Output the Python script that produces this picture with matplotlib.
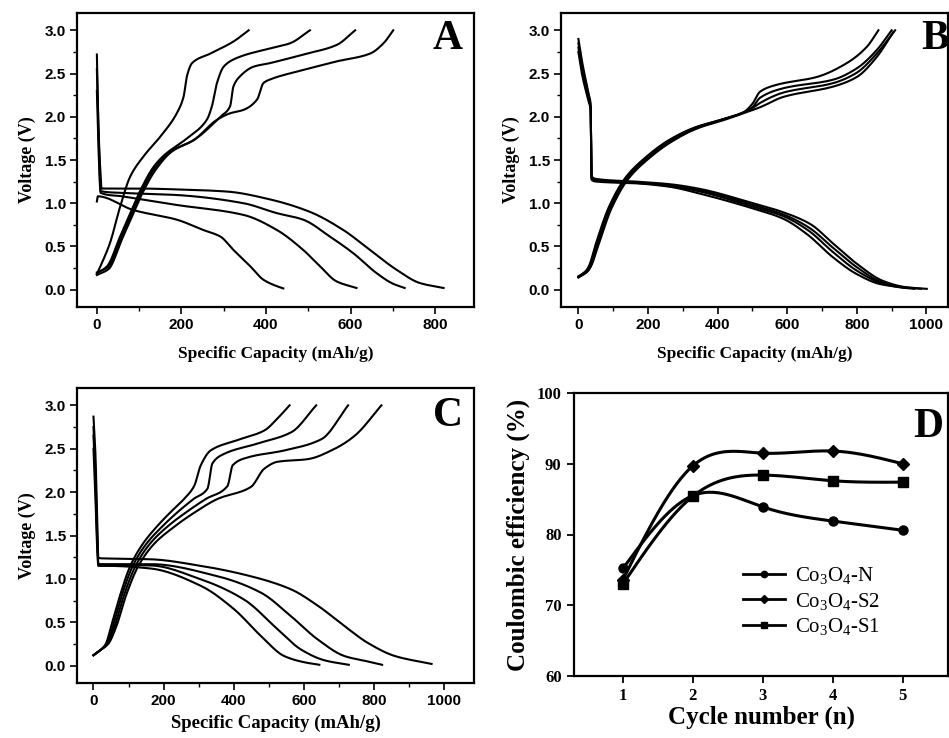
import numpy as np
import matplotlib
matplotlib.use("Agg")
import matplotlib.pyplot as plt
from matplotlib.ticker import MultipleLocator
from matplotlib.lines import Line2D

plt.rcParams['mathtext.fontset'] = 'custom'
plt.rcParams['mathtext.rm'] = 'Liberation Serif'
plt.rcParams['mathtext.it'] = 'Liberation Serif:italic'
plt.rcParams['mathtext.bf'] = 'Liberation Serif:bold'

# ---------------- Panel A data ----------------
A_dis1_x = [0, 2, 87, 189, 252, 292, 323, 363, 394, 426, 441]
A_dis1_y = [1.02, 1.08, 0.92, 0.81, 0.69, 0.615, 0.46, 0.27, 0.115, 0.04, 0.015]
A_dis2_x = [0, 4, 9, 60, 189, 347, 426, 488, 528, 567, 614]
A_dis2_y = [2.3, 1.6, 1.12, 1.08, 0.98, 0.865, 0.69, 0.46, 0.27, 0.096, 0.02]
A_dis3_x = [0, 4, 9, 60, 189, 347, 426, 488, 551, 607, 662, 700, 728]
A_dis3_y = [2.55, 1.8, 1.14, 1.12, 1.095, 1.0, 0.885, 0.81, 0.615, 0.42, 0.19, 0.07, 0.02]
A_dis4_x = [0, 3, 8, 11, 100, 189, 308, 409, 504, 583, 646, 709, 764, 820]
A_dis4_y = [2.72, 2.0, 1.4, 1.17, 1.17, 1.16, 1.135, 1.045, 0.90, 0.69, 0.46, 0.23, 0.077, 0.02]

A_chg1_x = [0, 12, 31, 55, 79, 110, 150, 189, 205, 213, 225, 268, 323, 359]
A_chg1_y = [0.18, 0.31, 0.54, 0.96, 1.31, 1.54, 1.77, 2.04, 2.23, 2.47, 2.62, 2.73, 2.87, 3.0]
A_chg2_x = [0, 24, 55, 79, 103, 134, 158, 213, 260, 272, 284, 300, 331, 409, 457, 504]
A_chg2_y = [0.19, 0.27, 0.615, 0.885, 1.15, 1.42, 1.55, 1.75, 1.965, 2.12, 2.39, 2.58, 2.68, 2.79, 2.85, 3.0]
A_chg3_x = [0, 26, 57, 81, 105, 136, 175, 229, 292, 315, 323, 339, 371, 409, 488, 567, 611]
A_chg3_y = [0.2, 0.26, 0.6, 0.87, 1.13, 1.40, 1.6, 1.73, 2.0, 2.12, 2.35, 2.47, 2.58, 2.62, 2.72, 2.83, 3.0]
A_chg4_x = [0, 28, 59, 83, 107, 138, 178, 229, 284, 315, 347, 379, 394, 409, 488, 567, 646, 678, 701]
A_chg4_y = [0.17, 0.24, 0.58, 0.85, 1.11, 1.38, 1.6, 1.73, 1.965, 2.04, 2.08, 2.2, 2.39, 2.43, 2.54, 2.64, 2.73, 2.85, 3.0]

# ---------------- Panel B data ----------------
B_dis1_x = [0, 10, 29, 35, 38, 53, 167, 263, 350, 493, 589, 666, 733, 800, 876, 940, 1001]
B_dis1_y = [2.9, 2.65, 2.27, 2.15, 1.31, 1.28, 1.25, 1.22, 1.165, 1.01, 0.895, 0.76, 0.53, 0.30, 0.10, 0.03, 0.01]
B_dis2_x = [0, 10, 29, 35, 38, 53, 167, 263, 350, 493, 589, 662, 733, 800, 870, 930, 985]
B_dis2_y = [2.85, 2.6, 2.24, 2.12, 1.29, 1.27, 1.24, 1.21, 1.15, 0.99, 0.87, 0.72, 0.48, 0.26, 0.09, 0.03, 0.01]
B_dis3_x = [0, 10, 29, 35, 38, 53, 167, 263, 350, 493, 589, 659, 733, 800, 868, 920, 965]
B_dis3_y = [2.8, 2.55, 2.2, 2.1, 1.28, 1.26, 1.235, 1.2, 1.135, 0.97, 0.85, 0.69, 0.43, 0.22, 0.08, 0.03, 0.01]
B_dis4_x = [0, 10, 29, 35, 38, 53, 167, 263, 350, 493, 589, 656, 733, 800, 867, 943]
B_dis4_y = [2.75, 2.5, 2.18, 2.08, 1.27, 1.25, 1.23, 1.19, 1.11, 0.95, 0.82, 0.645, 0.37, 0.18, 0.065, 0.02]

B_chg1_x = [0, 22, 31, 50, 88, 136, 193, 260, 337, 405, 474, 500, 522, 570, 685, 771, 829, 862]
B_chg1_y = [0.15, 0.22, 0.28, 0.53, 0.96, 1.30, 1.53, 1.73, 1.88, 1.96, 2.05, 2.15, 2.29, 2.37, 2.46, 2.62, 2.81, 3.0]
B_chg2_x = [0, 24, 33, 53, 91, 139, 196, 263, 340, 407, 474, 500, 522, 589, 733, 800, 857, 900]
B_chg2_y = [0.154, 0.22, 0.28, 0.53, 0.96, 1.30, 1.53, 1.73, 1.88, 1.96, 2.05, 2.11, 2.22, 2.33, 2.43, 2.56, 2.77, 3.0]
B_chg3_x = [0, 25, 35, 55, 93, 141, 198, 265, 342, 408, 474, 500, 522, 589, 733, 800, 857, 910]
B_chg3_y = [0.15, 0.21, 0.27, 0.52, 0.95, 1.29, 1.52, 1.72, 1.87, 1.96, 2.05, 2.10, 2.16, 2.28, 2.39, 2.51, 2.73, 3.0]
B_chg4_x = [0, 26, 36, 57, 95, 143, 200, 267, 344, 409, 474, 522, 589, 733, 800, 857, 905]
B_chg4_y = [0.14, 0.21, 0.27, 0.51, 0.94, 1.28, 1.51, 1.71, 1.87, 1.95, 2.04, 2.11, 2.23, 2.35, 2.46, 2.69, 2.98]

# ---------------- Panel C data ----------------
C_dis1_x = [0, 5, 10, 14, 40, 162, 306, 401, 478, 544, 600, 644]
C_dis1_y = [2.5, 2.0, 1.4, 1.15, 1.15, 1.12, 0.92, 0.65, 0.34, 0.11, 0.04, 0.01]
C_dis2_x = [0, 5, 10, 14, 40, 162, 306, 430, 525, 592, 660, 728]
C_dis2_y = [2.65, 2.2, 1.5, 1.16, 1.16, 1.155, 0.995, 0.76, 0.42, 0.185, 0.06, 0.01]
C_dis3_x = [0, 5, 10, 14, 40, 162, 354, 478, 563, 640, 716, 780, 823]
C_dis3_y = [2.75, 2.3, 1.6, 1.17, 1.17, 1.17, 1.03, 0.84, 0.57, 0.30, 0.11, 0.05, 0.01]
C_dis4_x = [0, 5, 10, 14, 40, 162, 306, 449, 563, 640, 716, 783, 860, 964]
C_dis4_y = [2.87, 2.5, 1.8, 1.24, 1.235, 1.226, 1.15, 1.03, 0.88, 0.69, 0.455, 0.26, 0.11, 0.02]

C_chg1_x = [0, 20, 35, 50, 75, 105, 140, 180, 220, 258, 287, 306, 334, 411, 487, 525, 559]
C_chg1_y = [0.12, 0.18, 0.25, 0.45, 0.8, 1.15, 1.4, 1.6, 1.77, 1.92, 2.07, 2.31, 2.48, 2.60, 2.71, 2.85, 3.0]
C_chg2_x = [0, 20, 38, 55, 80, 112, 150, 195, 240, 285, 325, 339, 372, 468, 564, 635]
C_chg2_y = [0.12, 0.18, 0.25, 0.45, 0.8, 1.15, 1.4, 1.6, 1.77, 1.92, 2.04, 2.33, 2.44, 2.56, 2.69, 3.0]
C_chg3_x = [0, 20, 40, 60, 86, 120, 160, 210, 265, 320, 382, 397, 440, 544, 650, 726]
C_chg3_y = [0.12, 0.18, 0.25, 0.45, 0.8, 1.15, 1.4, 1.6, 1.77, 1.92, 2.07, 2.31, 2.40, 2.48, 2.61, 3.0]
C_chg4_x = [0, 20, 42, 65, 92, 128, 172, 230, 290, 353, 449, 487, 525, 611, 688, 745, 821]
C_chg4_y = [0.12, 0.18, 0.25, 0.45, 0.8, 1.15, 1.4, 1.6, 1.77, 1.92, 2.06, 2.27, 2.35, 2.38, 2.50, 2.65, 3.0]

# ---------------- Panel D data ----------------
cycles = [1, 2, 3, 4, 5]
ce_N = [75.2, 85.5, 83.9, 81.9, 80.6]
ce_S2 = [73.6, 89.7, 91.5, 91.8, 90.0]
ce_S1 = [73.0, 85.4, 88.4, 87.6, 87.4]
labels_D = [r'Co$_3$O$_4$-N', r'Co$_3$O$_4$-S2', r'Co$_3$O$_4$-S1']
markers_D = ['o', 'D', 's']


def pchip_path(x, y, n=14):
    """Monotone cubic (Fritsch-Carlson) drawing path through the read points."""
    x = np.asarray(x, float); y = np.asarray(y, float)
    h = np.diff(x); delta = np.diff(y) / h
    m = np.zeros_like(y)
    for k in range(1, len(x) - 1):
        if delta[k - 1] * delta[k] > 0:
            w1 = 2 * h[k] + h[k - 1]; w2 = h[k] + 2 * h[k - 1]
            m[k] = (w1 + w2) / (w1 / delta[k - 1] + w2 / delta[k])
    m[0] = delta[0]; m[-1] = delta[-1]
    xs_all, ys_all = [], []
    for k in range(len(x) - 1):
        t = np.linspace(0, 1, n, endpoint=False)
        h00 = 2 * t**3 - 3 * t**2 + 1; h10 = t**3 - 2 * t**2 + t
        h01 = -2 * t**3 + 3 * t**2; h11 = t**3 - t**2
        xs_all.append(x[k] + t * h[k])
        ys_all.append(h00 * y[k] + h10 * h[k] * m[k] + h01 * y[k + 1] + h11 * h[k] * m[k + 1])
    xs_all.append([x[-1]]); ys_all.append([y[-1]])
    return np.concatenate(xs_all), np.concatenate(ys_all)


def nat_spline(x, y, n=200):
    x = np.asarray(x, float); y = np.asarray(y, float)
    m = len(x); h = np.diff(x)
    A = np.zeros((m, m)); r = np.zeros(m)
    A[0, 0] = A[-1, -1] = 1
    for i in range(1, m - 1):
        A[i, i - 1] = h[i - 1]; A[i, i] = 2 * (h[i - 1] + h[i]); A[i, i + 1] = h[i]
        r[i] = 3 * ((y[i + 1] - y[i]) / h[i] - (y[i] - y[i - 1]) / h[i - 1])
    c = np.linalg.solve(A, r)
    xs = np.linspace(x[0], x[-1], n)
    idx = np.clip(np.searchsorted(x, xs) - 1, 0, m - 2)
    b = (y[1:] - y[:-1]) / h - h * (2 * c[:-1] + c[1:]) / 3
    d = (c[1:] - c[:-1]) / (3 * h)
    dx = xs - x[idx]
    ys = y[idx] + b[idx] * dx + c[idx] * dx ** 2 + d[idx] * dx ** 3
    return xs, ys


W, H = 949, 738
fig = plt.figure(figsize=(W / 100, H / 100), dpi=100)


def axrect(l, t, r, b):
    return [l / W, 1 - b / H, (r - l) / W, (b - t) / H]


serif_b = dict(family='Liberation Serif', weight='bold')


def style_voltage(ax, xlim, letter, letter_pos, xlabel_size, xlabel_pad):
    ax.set_xlim(*xlim)
    ax.set_ylim(-0.2, 3.2)
    ax.xaxis.set_major_locator(MultipleLocator(200))
    ax.xaxis.set_minor_locator(MultipleLocator(100))
    ax.yaxis.set_major_locator(MultipleLocator(0.5))
    ax.yaxis.set_minor_locator(MultipleLocator(0.25))
    ax.tick_params(which='major', direction='out', length=5, width=1.2, pad=3, labelsize=11)
    ax.tick_params(which='minor', direction='out', length=3, width=1.0)
    for lab in ax.get_xticklabels() + ax.get_yticklabels():
        lab.set_fontfamily('Liberation Sans'); lab.set_fontweight('bold')
    for s in ax.spines.values():
        s.set_linewidth(1.6)
    ax.set_ylabel('Voltage (V)', fontsize=13, labelpad=6, **serif_b)
    ax.set_xlabel('Specific Capacity (mAh/g)', fontsize=xlabel_size, labelpad=xlabel_pad, **serif_b)
    ax.text(letter_pos[0], letter_pos[1], letter, transform=ax.transAxes, ha='center', va='top',
            fontsize=30, **serif_b)


def draw_curves(ax, curves):
    for cx, cy in curves:
        sx, sy = pchip_path(cx, cy)
        ax.plot(sx, sy, color='black', lw=1.5, solid_joinstyle='round')


# Panel A
axA = fig.add_axes(axrect(77, 13, 474, 307))
draw_curves(axA, [(A_dis1_x, A_dis1_y), (A_dis2_x, A_dis2_y), (A_dis3_x, A_dis3_y), (A_dis4_x, A_dis4_y),
                  (A_chg1_x, A_chg1_y), (A_chg2_x, A_chg2_y), (A_chg3_x, A_chg3_y), (A_chg4_x, A_chg4_y)])
style_voltage(axA, (-47, 892), 'A', (0.934, 0.975), 12.5, 10)

# Panel B
axB = fig.add_axes(axrect(561, 13, 948, 307))
draw_curves(axB, [(B_dis1_x, B_dis1_y), (B_dis2_x, B_dis2_y), (B_dis3_x, B_dis3_y), (B_dis4_x, B_dis4_y),
                  (B_chg1_x, B_chg1_y), (B_chg2_x, B_chg2_y), (B_chg3_x, B_chg3_y), (B_chg4_x, B_chg4_y)])
style_voltage(axB, (-50, 1062), 'B', (0.966, 0.975), 12.5, 10)

# Panel C
axC = fig.add_axes(axrect(77, 388, 474, 683))
draw_curves(axC, [(C_dis1_x, C_dis1_y), (C_dis2_x, C_dis2_y), (C_dis3_x, C_dis3_y), (C_dis4_x, C_dis4_y),
                  (C_chg1_x, C_chg1_y), (C_chg2_x, C_chg2_y), (C_chg3_x, C_chg3_y), (C_chg4_x, C_chg4_y)])
style_voltage(axC, (-47, 1085), 'C', (0.934, 0.968), 13.5, 5)

# Panel D
axD = fig.add_axes(axrect(574, 393, 948, 676))
handles = []
msizes = {'o': 6.5, 'D': 6.0, 's': 7.0}
for vals, mk, lab in zip([ce_N, ce_S2, ce_S1], markers_D, labels_D):
    sx, sy = nat_spline(cycles, vals)
    axD.plot(sx, sy, color='black', lw=2.2)
    axD.plot(cycles, vals, linestyle='none', marker=mk, color='black', markersize=msizes[mk])
    handles.append(Line2D([], [], color='black', lw=2.0, marker=mk,
                          markersize=msizes[mk] * 0.7, label=lab))
axD.set_xlim(0.3, 5.65)
axD.set_ylim(60, 100)
axD.xaxis.set_major_locator(MultipleLocator(1))
axD.yaxis.set_major_locator(MultipleLocator(10))
axD.tick_params(which='major', direction='out', length=5, width=1.3, labelsize=12, pad=4)
for lab in axD.get_xticklabels() + axD.get_yticklabels():
    lab.set_fontfamily('Liberation Serif'); lab.set_fontweight('bold')
for s in axD.spines.values():
    s.set_linewidth(1.6)
axD.set_ylabel('Coulombic efficiency (%)', fontsize=18, labelpad=5, **serif_b)
axD.set_xlabel('Cycle number (n)', fontsize=18, labelpad=1, **serif_b)
axD.text(0.947, 0.947, 'D', transform=axD.transAxes, ha='center', va='top', fontsize=30, **serif_b)
leg = axD.legend(handles=handles, loc='upper left', bbox_to_anchor=(0.43, 0.42), frameon=False,
                 handlelength=2.0, handletextpad=0.5, labelspacing=0.2, borderaxespad=0,
                 prop=dict(family='Liberation Serif', size=15))

fig.savefig('out.png', dpi=100)
